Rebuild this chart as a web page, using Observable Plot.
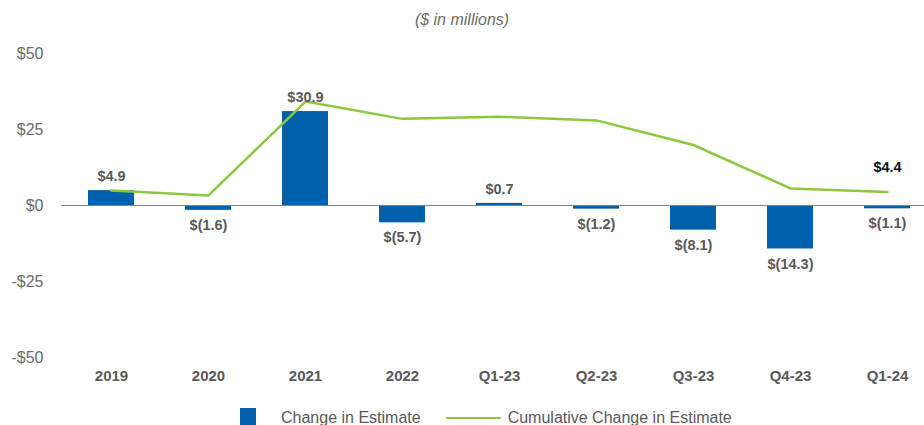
<!DOCTYPE html>
<html>
<head>
<meta charset="utf-8">
<script src="https://cdn.jsdelivr.net/npm/d3@7"></script>
<script src="https://cdn.jsdelivr.net/npm/@observablehq/plot@0.6"></script>
<style>
  body { margin: 0; background: #fff; font-family: "Liberation Sans", Arial, sans-serif; }
  #wrap { width: 924px; height: 425px; overflow: hidden; position: relative; }
  #title { height: 36px; line-height: 40px; text-align: center; font-style: italic; font-size: 16px; color: #6b6b6b; }
  #legend { display: flex; align-items: center; height: 20px; margin-left: 240px; margin-top: 12px; font-size: 16px; color: #595959; }
  .sw { width: 16px; height: 20px; background: #0060A9; margin-right: 25px; }
  .ln { width: 55px; height: 2.5px; background: #8DC63F; margin-left: 25px; margin-right: 7px; }
</style>
</head>
<body>
<div id="wrap">
  <div id="title">($ in millions)</div>
  <div id="chart"></div>
  <div id="legend"><div class="sw"></div><span>Change in Estimate</span><div class="ln"></div><span>Cumulative Change in Estimate</span></div>
</div>
<script>
const categories = ["2019", "2020", "2021", "2022", "Q1-23", "Q2-23", "Q3-23", "Q4-23", "Q1-24"];
const changeValues = [4.9, -1.6, 30.9, -5.7, 0.7, -1.2, -8.1, -14.3, -1.1];
const cumulativeValues = [4.9, 3.3, 34.2, 28.5, 29.2, 28.0, 19.9, 5.6, 4.4];
const yTicks = [-50, -25, 0, 25, 50];
const lastLabel = "$4.4";

const data = categories.map((c, i) => ({cat: c, change: changeValues[i], cum: cumulativeValues[i]}));
const fmtBar = v => v < 0 ? `$(${Math.abs(v).toFixed(1)})` : `$${v.toFixed(1)}`;
const fmtTick = v => v < 0 ? `-$${Math.abs(v)}` : `$${v}`;

const blue = "#0060A9";
const green = "#8DC63F";
const gray = "#595959";

const chart = Plot.plot({
  width: 924,
  height: 360,
  marginLeft: 61,
  marginRight: -13,
  marginTop: 17,
  marginBottom: 39,
  style: {fontFamily: "'Liberation Sans', Arial, sans-serif", background: "#fff"},
  x: {domain: categories, paddingInner: 0.53, paddingOuter: 0.268, label: null},
  y: {domain: [-50, 50], label: null},
  marks: [
    Plot.barY(data, {x: "cat", y: "change", fill: blue}),
    Plot.ruleY([0], {stroke: "#808080", strokeWidth: 1.2}),
    Plot.lineY(data, {x: "cat", y: "cum", stroke: green, strokeWidth: 2.5}),
    Plot.text(data.filter(d => d.change >= 0), {x: "cat", y: "change", text: d => fmtBar(d.change), dy: -14, fill: gray, fontWeight: "bold", fontSize: 14.5}),
    Plot.text(data.filter(d => d.change < 0), {x: "cat", y: "change", text: d => fmtBar(d.change), dy: 15, fill: gray, fontWeight: "bold", fontSize: 14.5}),
    Plot.text(data.slice(-1), {x: "cat", y: "cum", text: () => lastLabel, dy: -25, fill: "#111", fontWeight: "bold", fontSize: 14.5}),
    Plot.axisX({tickSize: 0, tickPadding: 13, fontSize: 15, fontWeight: "bold", fill: gray, label: null}),
    Plot.axisY({ticks: yTicks, tickFormat: fmtTick, tickSize: 0, tickPadding: 18, fontSize: 16, fill: "#6b6b6b", label: null})
  ]
});
document.getElementById("chart").appendChild(chart);
</script>
</body>
</html>
